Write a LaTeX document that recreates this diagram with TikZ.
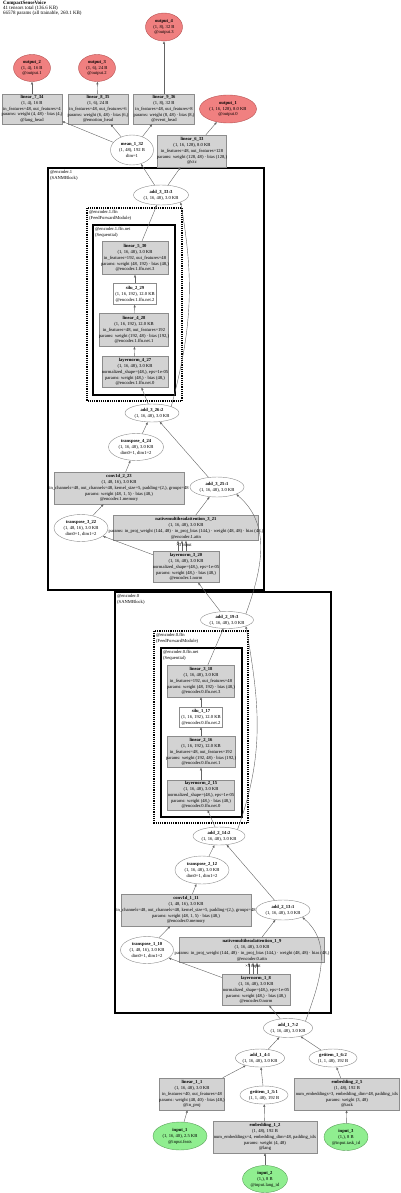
\documentclass[tikz,border=0pt]{standalone}
\usepackage{fontspec}
\setmainfont{Liberation Serif}
\usetikzlibrary{shapes.geometric, arrows.meta, positioning}
\definecolor{opgray}{RGB}{211,211,211}
\definecolor{opline}{RGB}{140,140,140}
\definecolor{outred}{RGB}{240,128,128}
\definecolor{outedge}{RGB}{180,80,80}
\definecolor{ingreen}{RGB}{144,238,144}
\definecolor{inedge}{RGB}{90,160,90}
\definecolor{flowgray}{RGB}{100,100,100}
\newcommand{\gvfont}{\fontsize{4.6}{5.9}\selectfont}
\newcommand{\wide}[1]{\makebox[0pt]{#1}}

\begin{document}
\begin{tikzpicture}[
  x=1pt, y=1pt,
  opbox/.style={draw=opline, fill=opgray, line width=0.4pt, rectangle, align=center, font=\gvfont, inner sep=0.5pt},
  plainbox/.style={opbox, fill=white},
  tensor/.style={draw=opline, fill=white, line width=0.4pt, ellipse, align=center, font=\gvfont, inner sep=0pt},
  outnode/.style={tensor, fill=outred, draw=outedge},
  innode/.style={tensor, fill=ingreen, draw=inedge},
  sz/.style 2 args={minimum width=#1pt, minimum height=#2pt},
  flow/.style={draw=flowgray, line width=0.4pt, -{Triangle[length=2.6pt,width=2pt]}},
  block/.style={draw=black, line width=1.3pt},
  ffnbox/.style={draw=black, line width=1.2pt, densely dotted},
  netbox/.style={draw=black, line width=1.1pt},
  tag/.style={font=\gvfont, align=left, anchor=north west, inner sep=0pt},
]
  \useasboundingbox (0,0) rectangle (400,-1193);

  % Title
  \node[tag, font=\fontsize{5}{4.7}\selectfont] (title) at (3,-1) {\textbf{CompactSenseVoice}\\41 tensors total (136.6 KB)\\66578 params (all trainable, 260.1 KB)};

  % Cluster frames
  \draw[block] (48,-168) rectangle (264,-590);
  \node[tag] (enc1tag) at (50,-170) {@encoder.1\\(SANMBlock)};
  \draw[ffnbox] (87,-208) rectangle (182,-401);
  \node[tag] (ffn1tag) at (89,-210) {@encoder.1.ffn\\(FeedForwardModule)};
  \draw[netbox] (93,-225) rectangle (175,-395);
  \node[tag] (net1tag) at (95,-227) {@encoder.1.ffn.net\\(Sequential)};

  \draw[block] (115,-592) rectangle (331,-1013);
  \node[tag] (enc0tag) at (117,-594) {@encoder.0\\(SANMBlock)};
  \draw[ffnbox] (154,-631) rectangle (248,-823);
  \node[tag] (ffn0tag) at (156,-633) {@encoder.0.ffn\\(FeedForwardModule)};
  \draw[netbox] (161,-648) rectangle (242,-817);
  \node[tag] (net0tag) at (163,-650) {@encoder.0.ffn.net\\(Sequential)};

  % Outputs and heads
  \node[outnode, sz={37}{27}] (out2) at (32,-68) {\textbf{output\_2}\\(1, 4), 16 B\\@output.1};
  \node[outnode, sz={37}{27}] (out3) at (97,-68) {\textbf{output\_3}\\(1, 6), 24 B\\@output.2};
  \node[outnode, sz={37}{28}] (out4) at (164,-27) {\textbf{output\_4}\\(1, 8), 32 B\\@output.3};
  \node[outnode, sz={57}{28}] (out1) at (228,-109) {\textbf{output\_1}\\(1, 16, 128), 8.0 KB\\@output.0};
  \node[opbox, sz={60}{30}] (lin734) at (32,-109) {\textbf{linear\_7\_34}\\(1, 4), 16 B\\\wide{in\_features=48, out\_features=4}\\\wide{params: weight (4, 48) · bias (4,)}\\@lang\_head};
  \node[opbox, sz={60}{30}] (lin835) at (98,-109) {\textbf{linear\_8\_35}\\(1, 6), 24 B\\\wide{in\_features=48, out\_features=6}\\\wide{params: weight (6, 48) · bias (6,)}\\@emotion\_head};
  \node[opbox, sz={61}{30}] (lin936) at (164,-109) {\textbf{linear\_9\_36}\\(1, 8), 32 B\\\wide{in\_features=48, out\_features=8}\\\wide{params: weight (8, 48) · bias (8,)}\\@event\_head};
  \node[opbox, sz={69}{32}] (lin633) at (192,-151) {\textbf{linear\_6\_33}\\(1, 16, 128), 8.0 KB\\\wide{in\_features=48, out\_features=128}\\\wide{params: weight (128, 48) · bias (128,)}\\@ctc};
  \node[tensor, sz={43}{30}] (mean132) at (132,-150) {\textbf{mean\_1\_32}\\(1, 48), 192 B\\dim=1};

  % Encoder 1
  \node[tensor, sz={55}{20}] (add333) at (161,-195) {\textbf{add\_3\_33:3}\\(1, 16, 48), 3.0 KB};
  \node[opbox, sz={66}{33}] (lin530) at (135,-258) {\textbf{linear\_5\_30}\\(1, 16, 48), 3.0 KB\\\wide{in\_features=192, out\_features=48}\\\wide{params: weight (48, 192) · bias (48,)}\\@encoder.1.ffn.net.3};
  \node[plainbox, sz={43}{21}] (silu229) at (135,-294) {\textbf{silu\_2\_29}\\(1, 16, 192), 12.0 KB\\@encoder.1.ffn.net.2};
  \node[opbox, sz={69}{33}] (lin428) at (134,-330) {\textbf{linear\_4\_28}\\(1, 16, 192), 12.0 KB\\\wide{in\_features=48, out\_features=192}\\\wide{params: weight (192, 48) · bias (192,)}\\@encoder.1.ffn.net.1};
  \node[opbox, sz={66}{31}] (ln427) at (135,-372) {\textbf{layernorm\_4\_27}\\(1, 16, 48), 3.0 KB\\\wide{normalized\_shape=(48,), eps=1e-05}\\params: weight (48,) · bias (48,)\\@encoder.1.ffn.net.0};
  \node[tensor, sz={54}{18}] (add3262) at (152,-413) {\textbf{add\_3\_26:2}\\(1, 16, 48), 3.0 KB};
  \node[tensor, sz={55}{27}] (tr424) at (136,-447) {\textbf{transpose\_4\_24}\\(1, 16, 48), 3.0 KB\\dim0=1, dim1=2};
  \node[opbox, sz={130}{32}] (conv223) at (119,-488) {\textbf{conv1d\_2\_23}\\(1, 48, 16), 3.0 KB\\\wide{in\_channels=48, out\_channels=48, kernel\_size=5, padding=(2,), groups=48}\\params: weight (48, 1, 5) · bias (48,)\\@encoder.1.memory};
  \node[tensor, sz={54}{27}] (tr322) at (81,-528) {\textbf{transpose\_3\_22}\\(1, 48, 16), 3.0 KB\\dim0=1, dim1=2};
  \node[tensor, sz={54}{20}] (add3251) at (217,-487) {\textbf{add\_3\_25:1}\\(1, 16, 48), 3.0 KB};
  \node[opbox, sz={145}{25}] (mha321) at (186,-528) {\textbf{nativemultiheadattention\_3\_21}\\(1, 16, 48), 3.0 KB\\\wide{params: in\_proj\_weight (144, 48) · in\_proj\_bias (144,) · weight (48, 48) · bias (48,)}\\@encoder.1.attn};
  \node[opbox, sz={66}{31}] (ln320) at (186,-567) {\textbf{layernorm\_3\_20}\\(1, 16, 48), 3.0 KB\\\wide{normalized\_shape=(48,), eps=1e-05}\\params: weight (48,) · bias (48,)\\@encoder.1.norm};

  % Encoder 0
  \node[tensor, sz={53}{17}] (add2193) at (227,-620) {\textbf{add\_2\_19:3}\\(1, 16, 48), 3.0 KB};
  \node[opbox, sz={67}{32}] (lin318) at (201,-681) {\textbf{linear\_3\_18}\\(1, 16, 48), 3.0 KB\\\wide{in\_features=192, out\_features=48}\\\wide{params: weight (48, 192) · bias (48,)}\\@encoder.0.ffn.net.3};
  \node[plainbox, sz={43}{20}] (silu117) at (201,-717) {\textbf{silu\_1\_17}\\(1, 16, 192), 12.0 KB\\@encoder.0.ffn.net.2};
  \node[opbox, sz={68}{31}] (lin216) at (201,-752) {\textbf{linear\_2\_16}\\(1, 16, 192), 12.0 KB\\\wide{in\_features=48, out\_features=192}\\\wide{params: weight (192, 48) · bias (192,)}\\@encoder.0.ffn.net.1};
  \node[opbox, sz={67}{30}] (ln215) at (201,-795) {\textbf{layernorm\_2\_15}\\(1, 16, 48), 3.0 KB\\\wide{normalized\_shape=(48,), eps=1e-05}\\params: weight (48,) · bias (48,)\\@encoder.0.ffn.net.0};
  \node[tensor, sz={52}{18}] (add2142) at (219,-836) {\textbf{add\_2\_14:2}\\(1, 16, 48), 3.0 KB};
  \node[tensor, sz={54}{28}] (tr212) at (202,-870) {\textbf{transpose\_2\_12}\\(1, 16, 48), 3.0 KB\\dim0=1, dim1=2};
  \node[opbox, sz={130}{32}] (conv111) at (186,-910) {\textbf{conv1d\_1\_11}\\(1, 48, 16), 3.0 KB\\\wide{in\_channels=48, out\_channels=48, kernel\_size=5, padding=(2,), groups=48}\\params: weight (48, 1, 5) · bias (48,)\\@encoder.0.memory};
  \node[tensor, sz={53}{27}] (tr110) at (147,-950) {\textbf{transpose\_1\_10}\\(1, 48, 16), 3.0 KB\\dim0=1, dim1=2};
  \node[tensor, sz={54}{20}] (add2131) at (283,-910) {\textbf{add\_2\_13:1}\\(1, 16, 48), 3.0 KB};
  \node[opbox, sz={145}{25}] (mha19) at (252,-950) {\textbf{nativemultiheadattention\_1\_9}\\(1, 16, 48), 3.0 KB\\\wide{params: in\_proj\_weight (144, 48) · in\_proj\_bias (144,) · weight (48, 48) · bias (48,)}\\@encoder.0.attn};
  \node[opbox, sz={68}{31}] (ln18) at (256,-990) {\textbf{layernorm\_1\_8}\\(1, 16, 48), 3.0 KB\\\wide{normalized\_shape=(48,), eps=1e-05}\\params: weight (48,) · bias (48,)\\@encoder.0.norm};

  % Inputs and embeddings
  \node[tensor, sz={47}{19}] (add172) at (288,-1028) {\textbf{add\_1\_7:2}\\(1, 16, 48), 3.0 KB};
  \node[tensor, sz={46}{18}] (add141) at (260,-1058) {\textbf{add\_1\_4:1}\\(1, 16, 48), 3.0 KB};
  \node[tensor, sz={48}{18}] (get162) at (333,-1058) {\textbf{getitem\_1\_6:2}\\(1, 1, 48), 192 B};
  \node[opbox, sz={65}{32}] (lin11) at (192,-1094) {\textbf{linear\_1\_1}\\(1, 16, 48), 3.0 KB\\\wide{in\_features=40, out\_features=48}\\\wide{params: weight (48, 40) · bias (48,)}\\@in\_proj};
  \node[tensor, sz={48}{18}] (get131) at (264,-1095) {\textbf{getitem\_1\_3:1}\\(1, 1, 48), 192 B};
  \node[opbox, sz={105}{32}] (emb25) at (347,-1094) {\textbf{embedding\_2\_5}\\(1, 48), 192 B\\\wide{num\_embeddings=3, embedding\_dim=48, padding\_idx}\\params: weight (3, 48)\\@task};
  \node[opbox, sz={104}{32}] (emb12) at (265,-1137) {\textbf{embedding\_1\_2}\\(1, 48), 192 B\\\wide{num\_embeddings=4, embedding\_dim=48, padding\_idx}\\params: weight (4, 48)\\@lang};
  \node[innode, sz={54}{28}] (in1) at (180,-1136) {\textbf{input\_1}\\(1, 16, 40), 2.5 KB\\@input.feats};
  \node[innode, sz={44}{27}] (in3) at (346,-1137) {\textbf{input\_3}\\(1,), 8 B\\@input.task\_id};
  \node[innode, sz={45}{27}] (in2) at (265,-1179) {\textbf{input\_2}\\(1,), 8 B\\@input.lang\_id};

  % Connectors
  \draw[flow] (in1) -- (lin11);
  \draw[flow] (in2) -- (emb12);
  \draw[flow] (in3) -- (emb25);
  \draw[flow] (emb12) -- (get131);
  \draw[flow] (emb25) -- (get162);
  \draw[flow] (lin11) -- (add141);
  \draw[flow] (get131) -- (add141);
  \draw[flow] (add141) -- (add172);
  \draw[flow] (get162) -- (add172);
  \draw[flow] (add172) -- (ln18);
  \draw[flow] (add172.north east) to[out=70, in=-40] (add2131.south east);
  \foreach \dx in {-7,-3,1}
    \draw[flow] ([xshift=\dx pt]ln18.north) -- ([xshift=\dx pt]ln18.north |- mha19.south);
  \node[font=\gvfont, inner sep=0pt] (mha19tag) at (253,-966) {×3 input};
  \draw[flow] (ln18) -- (tr110);
  \draw[flow] (tr110) -- (conv111);
  \draw[flow] (conv111) -- (tr212);
  \draw[flow] (tr212) -- (add2142);
  \draw[flow] (mha19) -- (add2131);
  \draw[flow] (add2131) -- (add2142);
  \draw[flow] (add2142) -- (ln215);
  \draw[flow] (add2142.north east) to[out=70, in=-80] (add2193.south east);
  \draw[flow] (ln215) -- (lin216);
  \draw[flow] (lin216) -- (silu117);
  \draw[flow] (silu117) -- (lin318);
  \draw[flow] (lin318) -- (add2193);
  \draw[flow] (add2193) -- (ln320);
  \draw[flow] (add2193.north east) to[out=70, in=-40] (add3251.south east);
  \foreach \dx in {-8,-4,0}
    \draw[flow] ([xshift=\dx pt]ln320.north) -- ([xshift=\dx pt]ln320.north |- mha321.south);
  \node[font=\gvfont, inner sep=0pt] (mha321tag) at (184,-545) {×3 input};
  \draw[flow] (ln320) -- (tr322);
  \draw[flow] (tr322) -- (conv223);
  \draw[flow] (conv223) -- (tr424);
  \draw[flow] (tr424) -- (add3262);
  \draw[flow] (mha321) -- (add3251);
  \draw[flow] (add3251) -- (add3262);
  \draw[flow] (add3262) -- (ln427);
  \draw[flow] (add3262.north east) to[out=75, in=-80] (add333.south east);
  \draw[flow] (ln427) -- (lin428);
  \draw[flow] (lin428) -- (silu229);
  \draw[flow] (silu229) -- (lin530);
  \draw[flow] (lin530) -- (add333);
  \draw[flow] (add333) -- (mean132);
  \draw[flow] (add333) -- (lin633);
  \draw[flow] (mean132) -- (lin734);
  \draw[flow] (mean132) -- (lin835);
  \draw[flow] (mean132) -- (lin936);
  \draw[flow] (lin734) -- (out2);
  \draw[flow] (lin835) -- (out3);
  \draw[flow] (lin936) -- (out4);
  \draw[flow] (lin633) -- (out1);
\end{tikzpicture}
\end{document}
